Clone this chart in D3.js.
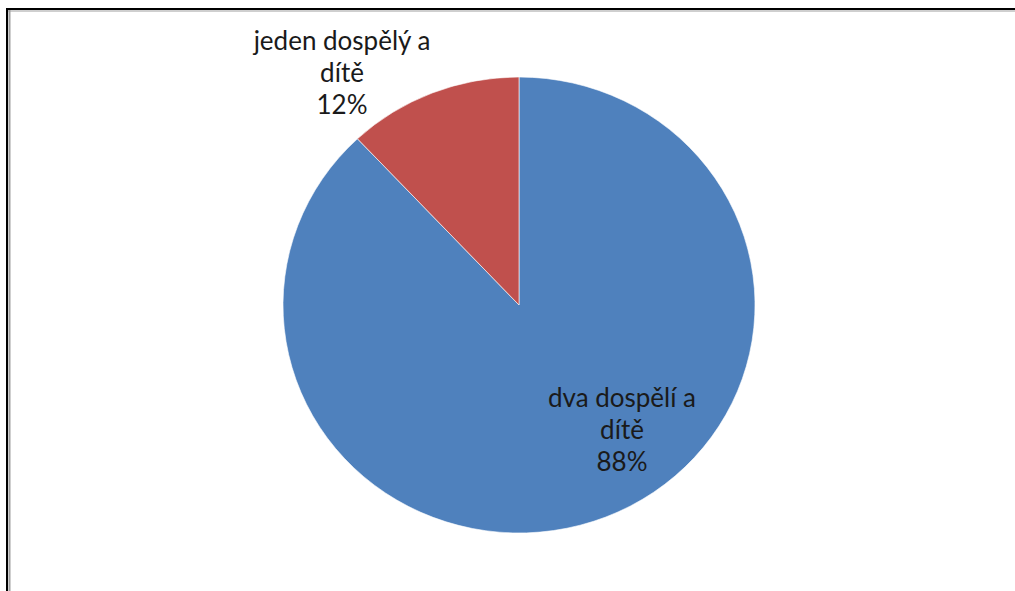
<!DOCTYPE html>
<html>
<head>
<meta charset="utf-8">
<script src="https://cdn.jsdelivr.net/npm/d3@7"></script>
<style>
  html, body { margin: 0; padding: 0; background: #fff; }
  svg { display: block; }
</style>
</head>
<body>
<svg id="chart" width="1015" height="591"></svg>
<script>
// Household types and their share
const categories = ["dva dospělí a dítě", "jeden dospělý a dítě"];
const labelLines = [["dva dospělí a", "dítě"], ["jeden dospělý a", "dítě"]];
const values = [88, 12];
const colors = ["#4F81BD", "#C0504D"];

const W = 1015, H = 591;
const svg = d3.select("#chart");

// Frame: dark outer line with a grey inner shade on left and top
svg.append("rect").attr("x", 0).attr("y", 0).attr("width", W).attr("height", H).attr("fill", "#fff");
svg.append("line").attr("x1", 7).attr("x2", 7).attr("y1", 8).attr("y2", H).attr("stroke", "#000").attr("stroke-width", 2);
svg.append("line").attr("x1", 6).attr("x2", W).attr("y1", 9).attr("y2", 9).attr("stroke", "#000").attr("stroke-width", 2);
svg.append("line").attr("x1", 9.5).attr("x2", 9.5).attr("y1", 10).attr("y2", H).attr("stroke", "#a0a0a0").attr("stroke-width", 2);
svg.append("line").attr("x1", 8).attr("x2", W).attr("y1", 11).attr("y2", 11).attr("stroke", "#a0a0a0").attr("stroke-width", 1.2);

// The pie is drawn slightly flattened vertically
const cx = 519, cy = 305, rx = 236, ry = 228;
const pie = d3.pie().sort(null).value(d => d)
  .startAngle(0).endAngle(2 * Math.PI);
const arcs = pie(values);
const arc = d3.arc().innerRadius(0).outerRadius(rx);

const g = svg.append("g").attr("transform", `translate(${cx},${cy})`);
g.append("g").attr("transform", `scale(1,${ry / rx})`)
  .selectAll("path").data(arcs).enter().append("path")
  .attr("d", arc)
  .attr("fill", (d, i) => colors[i])
  .attr("stroke", "#fff")
  .attr("stroke-width", 0.6)
  .attr("vector-effect", "non-scaling-stroke");

// Data labels: centred blocks of name + percentage
const labelPos = [[103, 102], [-177, -255]];
const lineH = 32;
arcs.forEach((a, i) => {
  const lines = labelLines[i].concat([values[i] + "%"]);
  const t = g.append("text")
    .attr("text-anchor", "middle")
    .attr("font-family", "Lato, 'Open Sans', sans-serif")
    .attr("font-size", 26)
    .attr("fill", "#1a1a1a");
  lines.forEach((s, k) => {
    t.append("tspan")
      .attr("x", labelPos[i][0])
      .attr("y", labelPos[i][1] + k * lineH)
      .text(s);
  });
});
</script>
</body>
</html>
